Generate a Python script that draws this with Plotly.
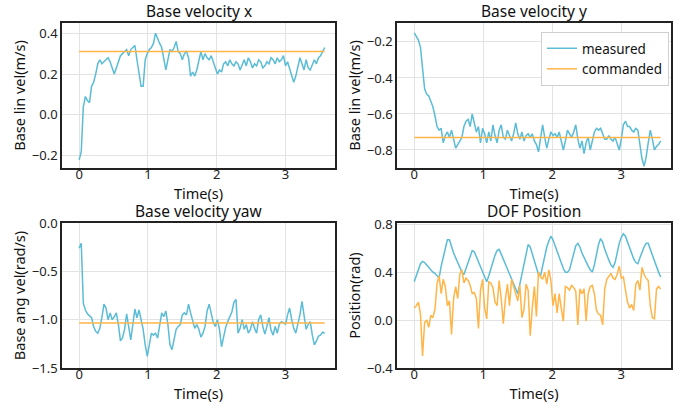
import numpy as np
import plotly.graph_objects as go
from plotly.subplots import make_subplots

# sampled every 0.03 s
time_step = 0.03

vel_x = [-0.22, -0.18, 0.04, 0.09, 0.07, 0.06, 0.14, 0.16, 0.20, 0.25,
         0.27, 0.25, 0.26, 0.27, 0.28, 0.26, 0.23, 0.20, 0.23, 0.26,
         0.29, 0.30, 0.31, 0.32, 0.29, 0.32, 0.33, 0.34, 0.27, 0.20,
         0.14, 0.14, 0.27, 0.30, 0.32, 0.33, 0.35, 0.40, 0.37, 0.35,
         0.33, 0.28, 0.22, 0.27, 0.32, 0.31, 0.33, 0.36, 0.31, 0.30,
         0.27, 0.30, 0.31, 0.28, 0.19, 0.21, 0.19, 0.22, 0.27, 0.31,
         0.27, 0.30, 0.28, 0.27, 0.29, 0.26, 0.22, 0.20, 0.22, 0.21,
         0.25, 0.26, 0.24, 0.27, 0.25, 0.24, 0.26, 0.25, 0.22, 0.25,
         0.27, 0.24, 0.28, 0.26, 0.23, 0.25, 0.24, 0.27, 0.26, 0.23,
         0.24, 0.26, 0.25, 0.28, 0.27, 0.25, 0.28, 0.26, 0.27, 0.29,
         0.24, 0.26, 0.23, 0.19, 0.16, 0.19, 0.24, 0.28, 0.25, 0.22,
         0.27, 0.23, 0.22, 0.25, 0.27, 0.25, 0.28, 0.29, 0.31, 0.33]
cmd_x = 0.31

vel_y = [-0.15, -0.17, -0.19, -0.23, -0.36, -0.46, -0.49, -0.50, -0.53, -0.56,
         -0.61, -0.67, -0.69, -0.68, -0.76, -0.72, -0.70, -0.73, -0.69, -0.75,
         -0.79, -0.77, -0.75, -0.73, -0.67, -0.64, -0.63, -0.67, -0.60, -0.66,
         -0.70, -0.67, -0.76, -0.68, -0.71, -0.76, -0.70, -0.75, -0.66, -0.72,
         -0.76, -0.69, -0.66, -0.73, -0.74, -0.69, -0.72, -0.75, -0.71, -0.65,
         -0.71, -0.74, -0.70, -0.75, -0.72, -0.71, -0.73, -0.71, -0.75, -0.77,
         -0.81, -0.72, -0.66, -0.73, -0.79, -0.74, -0.70, -0.72, -0.71, -0.73,
         -0.70, -0.75, -0.80, -0.75, -0.69, -0.71, -0.73, -0.70, -0.66, -0.74,
         -0.79, -0.75, -0.82, -0.76, -0.73, -0.80, -0.75, -0.70, -0.68, -0.69,
         -0.68, -0.71, -0.74, -0.74, -0.72, -0.74, -0.75, -0.73, -0.76, -0.80,
         -0.74, -0.66, -0.64, -0.67, -0.67, -0.69, -0.70, -0.68, -0.69, -0.76,
         -0.85, -0.89, -0.84, -0.76, -0.69, -0.74, -0.80, -0.78, -0.77, -0.75]
cmd_y = -0.73

vel_yaw = [-0.26, -0.21, -0.83, -0.90, -0.94, -0.96, -0.98, -1.07, -1.12, -1.14,
           -1.09, -0.98, -0.84, -0.88, -1.00, -0.93, -1.00, -0.97, -0.93, -1.05,
           -1.22, -1.19, -1.10, -0.94, -1.09, -1.21, -1.05, -0.89, -0.98, -0.90,
           -1.00, -1.10, -1.26, -1.38, -1.26, -1.14, -1.16, -1.14, -1.19, -1.05,
           -0.93, -0.97, -0.91, -1.05, -1.26, -1.31, -1.19, -1.10, -1.07, -1.05,
           -0.95, -0.93, -0.95, -0.84, -0.93, -1.02, -1.09, -1.05, -1.10, -1.18,
           -1.14, -1.07, -0.91, -0.84, -0.95, -1.03, -1.07, -1.00, -1.10, -1.28,
           -1.18, -1.08, -1.02, -0.97, -0.92, -0.82, -0.79, -1.14, -1.09, -1.00,
           -1.10, -1.05, -1.14, -1.10, -1.02, -1.09, -1.14, -1.00, -0.95, -1.07,
           -1.15, -1.07, -0.98, -1.11, -1.16, -1.07, -1.14, -1.05, -1.02, -1.03,
           -1.05, -0.95, -0.88, -1.00, -1.09, -1.14, -1.05, -0.95, -0.81, -0.95,
           -1.10, -1.05, -1.02, -1.16, -1.26, -1.22, -1.17, -1.16, -1.13, -1.14]
cmd_yaw = -1.035

dof_measured = [0.32, 0.37, 0.43, 0.47, 0.49, 0.48, 0.46, 0.44, 0.42, 0.40,
                0.39, 0.37, 0.35, 0.45, 0.53, 0.61, 0.67, 0.67, 0.61, 0.56,
                0.52, 0.48, 0.44, 0.40, 0.38, 0.43, 0.49, 0.54, 0.58, 0.57,
                0.53, 0.49, 0.45, 0.41, 0.37, 0.32, 0.37, 0.43, 0.49, 0.54,
                0.58, 0.59, 0.55, 0.51, 0.47, 0.43, 0.39, 0.35, 0.31, 0.26,
                0.22, 0.30, 0.38, 0.47, 0.56, 0.63, 0.61, 0.55, 0.50, 0.44,
                0.38, 0.37, 0.45, 0.54, 0.61, 0.66, 0.70, 0.67, 0.62, 0.57,
                0.52, 0.47, 0.43, 0.40, 0.40, 0.42, 0.49, 0.56, 0.62, 0.64,
                0.61, 0.56, 0.52, 0.48, 0.45, 0.42, 0.40, 0.46, 0.55, 0.63,
                0.68, 0.65, 0.59, 0.54, 0.50, 0.46, 0.44, 0.48, 0.56, 0.64,
                0.69, 0.72, 0.70, 0.65, 0.60, 0.55, 0.51, 0.48, 0.47, 0.52,
                0.57, 0.61, 0.64, 0.64, 0.59, 0.54, 0.49, 0.44, 0.40, 0.36]

dof_commanded = [0.10, 0.12, 0.15, 0.05, -0.30, -0.02, 0.00, -0.06, 0.04, 0.02,
                 0.09, 0.30, 0.37, 0.22, 0.34, 0.28, 0.12, 0.16, -0.12, 0.18,
                 0.28, 0.18, 0.38, 0.42, 0.31, 0.35, 0.33, 0.29, 0.22, 0.23,
                 0.18, -0.07, 0.25, 0.34, 0.10, 0.01, 0.32, 0.31, 0.27, 0.15,
                 0.12, 0.33, 0.18, -0.03, 0.17, 0.30, 0.12, 0.34, 0.28, 0.22,
                 0.16, 0.29, 0.02, 0.09, 0.30, 0.25, -0.13, 0.10, 0.28, 0.03,
                 0.40, 0.36, 0.34, 0.40, 0.30, 0.42, 0.33, 0.12, 0.22, 0.06,
                 0.22, 0.10, -0.01, 0.28, 0.27, 0.25, 0.29, 0.27, 0.24, -0.04,
                 0.26, 0.22, 0.26, -0.01, 0.22, 0.28, 0.29, 0.22, 0.08, 0.05,
                 0.04, -0.04, 0.26, 0.34, 0.37, 0.39, 0.35, 0.34, 0.38, 0.45,
                 0.35, 0.36, 0.25, 0.15, 0.10, 0.13, 0.08, 0.30, 0.33, 0.25,
                 0.44, 0.38, 0.35, 0.33, 0.12, 0.02, 0.01, 0.26, 0.28, 0.26]

t = np.round(np.arange(len(vel_x)) * time_step, 2)

blue = "#5BBCD6"
orange = "#FFB548"
font = "Noto Sans"

fig = make_subplots(rows=2, cols=2)

panels = [
    (1, 1, vel_x, [cmd_x] * len(t)),
    (1, 2, vel_y, [cmd_y] * len(t)),
    (2, 1, vel_yaw, [cmd_yaw] * len(t)),
    (2, 2, dof_measured, dof_commanded),
]
for row, col, meas, cmd in panels:
    first = (row, col) == (1, 2)
    fig.add_trace(go.Scatter(x=t, y=meas, mode="lines", name="measured",
                             line=dict(color=blue, width=1.5), showlegend=first),
                  row=row, col=col)
    fig.add_trace(go.Scatter(x=t, y=cmd, mode="lines", name="commanded",
                             line=dict(color=orange, width=1.5), showlegend=first),
                  row=row, col=col)

# plot area is 62..671 px wide, 23..368 px tall
W, H = 609, 345
left_x = [0, (335 - 62) / W]
right_x = [(397 - 62) / W, 1]
top_y = [(368 - 168) / H, 1]
bot_y = [0, (368 - 223) / H]

axis_style = dict(showline=True, mirror=True, linecolor="#222222", linewidth=1.5,
                  showgrid=True, gridcolor="#E3E3E3", gridwidth=1, zeroline=False,
                  ticks="", ticklen=0,
                  tickfont=dict(family=font, size=13, color="#222222"),
                  title_font=dict(family=font, size=14.5, color="#111111"))

x_range = [-0.25, 3.72]
fig.update_xaxes(**axis_style, range=x_range, tickvals=[0, 1, 2, 3],
                 ticklabelstandoff=-6, title_text="Time(s)", title_standoff=0)
fig.update_yaxes(**axis_style, tickformat=".1f", title_standoff=3)

fig.update_xaxes(domain=left_x, row=1, col=1)
fig.update_xaxes(domain=right_x, row=1, col=2)
fig.update_xaxes(domain=left_x, row=2, col=1)
fig.update_xaxes(domain=right_x, row=2, col=2)

fig.update_yaxes(domain=top_y, range=[-0.26, 0.45], dtick=0.2,
                 title_text="Base lin vel(m/s)", row=1, col=1)
fig.update_yaxes(domain=top_y, range=[-0.90, -0.095], tickvals=[-0.2, -0.4, -0.6, -0.8],
                 title_text="Base lin vel(m/s)", row=1, col=2)
fig.update_yaxes(domain=bot_y, range=[-1.5, 0.0], dtick=0.5,
                 title_text="Base ang vel(rad/s)", row=2, col=1)
fig.update_yaxes(domain=bot_y, range=[-0.4, 0.81], tickvals=[-0.4, 0.0, 0.4, 0.8],
                 title_text="Position(rad)", row=2, col=2)

titles = [("Base velocity x", left_x, top_y), ("Base velocity y", right_x, top_y),
          ("Base velocity yaw", left_x, bot_y), ("DOF Position", right_x, bot_y)]
for text, xd, yd in titles:
    fig.add_annotation(text=text, x=(xd[0] + xd[1]) / 2, y=yd[1], xref="paper", yref="paper",
                       xanchor="center", yanchor="bottom", yshift=-1, showarrow=False,
                       font=dict(family=font, size=15.5, color="#111111"))

fig.update_layout(
    width=688, height=410,
    margin=dict(l=62, r=17, t=23, b=42),
    plot_bgcolor="white", paper_bgcolor="white",
    legend=dict(x=(541 - 62) / W, y=(368 - 32) / H, xanchor="left", yanchor="top",
                bgcolor="rgba(255,255,255,0.9)", bordercolor="#D0D0D0", borderwidth=1,
                font=dict(family=font, size=13.5, color="#111111"),
                tracegroupgap=0, itemwidth=30),
)

# drop the default page margin so the figure sits at the window corner
fig.write_html("out.html", config={"displayModeBar": False},
               post_script="document.body.style.margin='0';")
